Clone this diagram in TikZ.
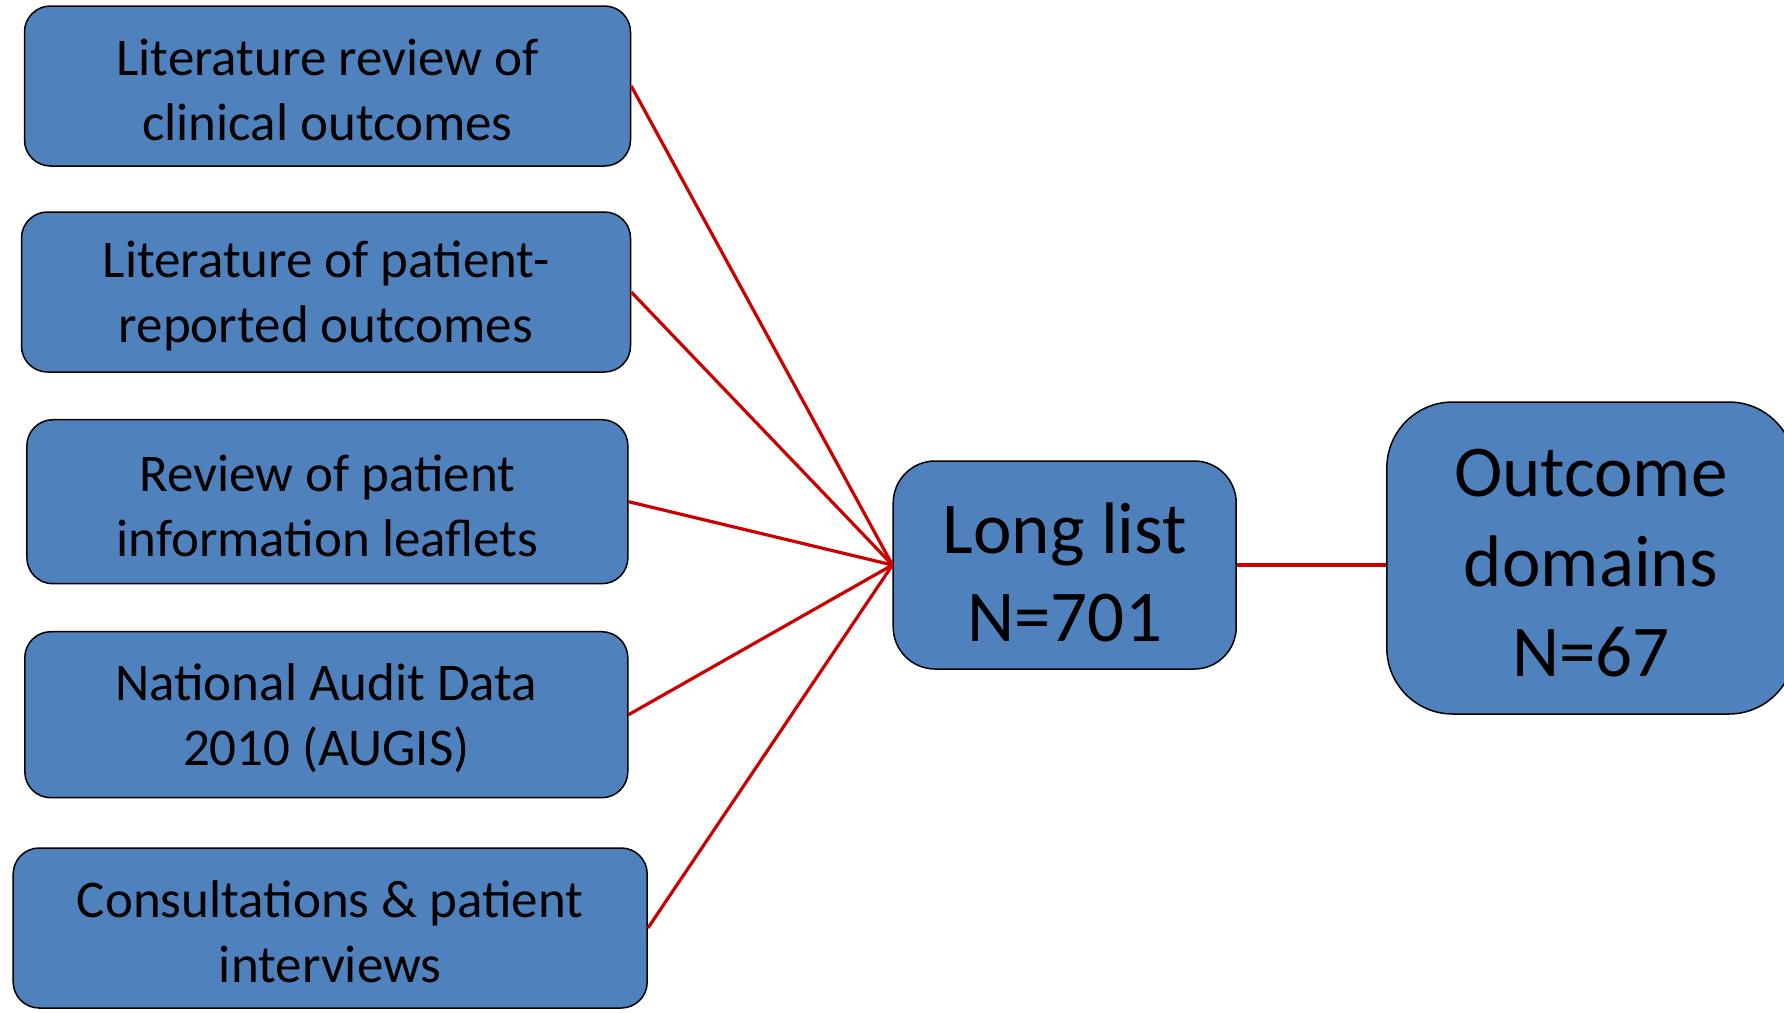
\documentclass[tikz,border=0pt]{standalone}
\usepackage{fontspec}
\setmainfont{Carlito}
\definecolor{boxblue}{HTML}{4F81BD}
\definecolor{linkred}{HTML}{CC0000}
\newcommand\mytopstrut[1]{\rule{0pt}{#1}}
\tikzset{
  srcbox/.style={draw=black, line width=1.5pt, fill=boxblue, rounded corners=26pt, inner sep=0pt, align=center, font=\fontsize{53}{65}\selectfont},
  bigbox/.style={draw=black, line width=1.5pt, fill=boxblue, inner sep=0pt, align=center},
  link/.style={draw=linkred, line width=3.2pt}
}
\begin{document}
\begin{tikzpicture}[x=1pt,y=-1pt]
\useasboundingbox (0,0) rectangle (1784,1012);
\node[srcbox, minimum width=606pt, minimum height=160pt] (b1) at (327.5,86) {\mytopstrut{44pt}Literature review of\\clinical outcomes};
\node[srcbox, minimum width=609pt, minimum height=160pt] (b2) at (326,292) {\mytopstrut{44pt}Literature of patient-\\reported outcomes};
\node[srcbox, minimum width=601pt, minimum height=164pt] (b3) at (327.4,501.7) {\mytopstrut{44pt}Review of patient\\information leaflets};
\node[srcbox, minimum width=603pt, minimum height=166pt] (b4) at (326.3,714.7) {\mytopstrut{44pt}National Audit Data\\2010 (AUGIS)};
\node[srcbox, minimum width=634pt, minimum height=160pt] (b5) at (330.2,928) {\mytopstrut{44pt}Consultations \& patient\\interviews};
\node[bigbox, rounded corners=42pt, minimum width=343pt, minimum height=208pt, font=\fontsize{73}{88}\selectfont] (ll) at (1064.7,565) {\mytopstrut{66pt}Long list\\N=701};
\node[bigbox, rounded corners=66pt, minimum width=408pt, minimum height=312pt, font=\fontsize{73}{90}\selectfont] (od) at (1590.8,558) {\mytopstrut{58pt}Outcome\\domains\\N=67};
\draw[link] (b1.east) -- (ll.west);
\draw[link] (b2.east) -- (ll.west);
\draw[link] (b3.east) -- (ll.west);
\draw[link] (b4.east) -- (ll.west);
\draw[link] (b5.east) -- (ll.west);
\draw[link] (ll.east) -- (ll.east -| od.west);
\end{tikzpicture}
\end{document}
